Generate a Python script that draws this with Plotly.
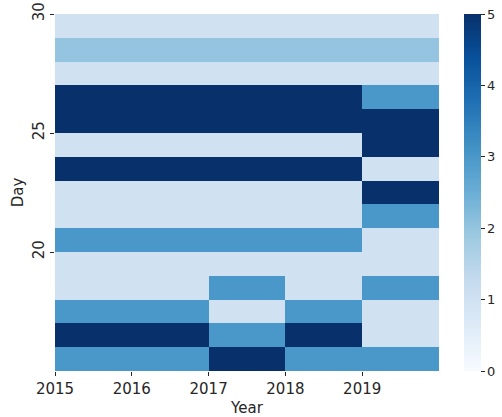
import plotly.graph_objects as go

# Cell edges: years along x, days along y
year_edges = [2015, 2016, 2017, 2018, 2019, 2020]
day_edges = list(range(15, 31))

# Counts per day (rows, from day 15 upward) for years 2015..2019
counts = [
    [3, 3, 5, 3, 3],  # 15-16
    [5, 5, 3, 5, 1],  # 16-17
    [3, 3, 1, 3, 1],  # 17-18
    [1, 1, 3, 1, 3],  # 18-19
    [1, 1, 1, 1, 1],  # 19-20
    [3, 3, 3, 3, 1],  # 20-21
    [1, 1, 1, 1, 3],  # 21-22
    [1, 1, 1, 1, 5],  # 22-23
    [5, 5, 5, 5, 1],  # 23-24
    [1, 1, 1, 1, 5],  # 24-25
    [5, 5, 5, 5, 5],  # 25-26
    [5, 5, 5, 5, 3],  # 26-27
    [1, 1, 1, 1, 1],  # 27-28
    [2, 2, 2, 2, 2],  # 28-29
    [1, 1, 1, 1, 1],  # 29-30
]

x_ticks = [2015, 2016, 2017, 2018, 2019]
y_ticks = [20, 25, 30]
cbar_ticks = [0, 1, 2, 3, 4, 5]

blues = ["#f7fbff", "#deebf7", "#c6dbef", "#9ecae1", "#6baed6",
         "#4292c6", "#2171b5", "#08519c", "#08306b"]
colorscale = [[i / (len(blues) - 1), c] for i, c in enumerate(blues)]

txt = "#262626"
font = "DejaVu Sans"

W, H = 502, 417
ml, mr, mt, mb = 55, 63, 14, 46
plot_w = W - ml - mr

fig = go.Figure(
    go.Heatmap(
        x=year_edges,
        y=day_edges,
        z=counts,
        zmin=0,
        zmax=5,
        colorscale=colorscale,
        hoverongaps=False,
        colorbar=dict(
            xref="paper",
            x=(464 - ml) / plot_w,
            xanchor="left",
            yref="paper",
            y=0.5,
            yanchor="middle",
            len=1,
            lenmode="fraction",
            thickness=17,
            thicknessmode="pixels",
            outlinewidth=0,
            tickvals=cbar_ticks,
            ticks="outside",
            ticklen=4,
            tickwidth=1,
            tickcolor=txt,
            tickfont=dict(family=font, size=13, color=txt),
            xpad=0,
            ypad=0,
        ),
    )
)

fig.update_layout(
    width=W,
    height=H,
    margin=dict(l=ml, r=mr, t=mt, b=mb, autoexpand=False),
    paper_bgcolor="white",
    plot_bgcolor="white",
    font=dict(family=font, color=txt),
    xaxis=dict(
        range=[2015, 2020],
        tickvals=x_ticks,
        ticktext=[str(v) for v in x_ticks],
        ticks="outside",
        ticklen=4,
        tickwidth=1,
        tickcolor=txt,
        showgrid=False,
        zeroline=False,
        showline=False,
        automargin=False,
        tickfont=dict(family=font, size=15, color=txt),
        title=dict(text="Year", font=dict(family=font, size=15, color=txt), standoff=6),
    ),
    yaxis=dict(
        range=[15, 30],
        tickvals=y_ticks,
        ticktext=[str(v) for v in y_ticks],
        ticks="outside",
        ticklen=4,
        tickwidth=1,
        tickcolor=txt,
        tickangle=-90,
        showgrid=False,
        zeroline=False,
        showline=False,
        automargin=False,
        tickfont=dict(family=font, size=15, color=txt),
        title=dict(text="Day", font=dict(family=font, size=15, color=txt), standoff=2),
    ),
)

fig.write_html("out.html")
